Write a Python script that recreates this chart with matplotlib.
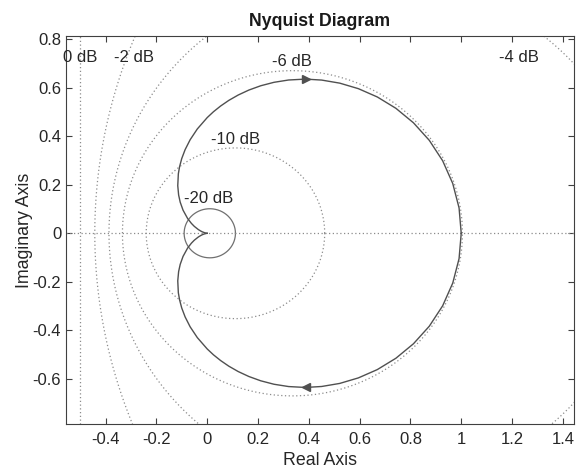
import numpy as np
import matplotlib
matplotlib.use("Agg")
import matplotlib.pyplot as plt

plt.rcParams['font.family'] = ['Liberation Sans', 'DejaVu Sans']
plt.rcParams['axes.unicode_minus'] = False

# Nyquist curve, positive frequencies (lower half)
re_pos = [1.0, 0.9915, 0.9666, 0.9268, 0.8743, 0.8120, 0.7429, 0.6697, 0.5952,
          0.5216, 0.4505, 0.3897, 0.3831, 0.3205, 0.2629, 0.2107, 0.1637, 0.1220,
          0.0850, 0.0527, 0.0244, 0.0, -0.0390, -0.0672, -0.0870, -0.1004,
          -0.1088, -0.1137, -0.1160, -0.1126, -0.1064, -0.0952, -0.0772, -0.0623,
          -0.0508, -0.0350, -0.0253, -0.0191, -0.0097, -0.0025, 0.0]
im_pos = [0.0, -0.1044, -0.2050, -0.2987, -0.3825, -0.4547, -0.5143, -0.5610,
          -0.5952, -0.6180, -0.6306, -0.6344, -0.6344, -0.6309, -0.6214, -0.6072,
          -0.5894, -0.5691, -0.5470, -0.5238, -0.5001, -0.4762, -0.4294, -0.3851,
          -0.3443, -0.3074, -0.2743, -0.2448, -0.1958, -0.1577, -0.1280, -0.0952,
          -0.0608, -0.0407, -0.0284, -0.0153, -0.0091, -0.0058, -0.0021, -0.0003,
          0.0]
arrow_index = 11

# constant closed-loop magnitude (M) circles, in dB
m_db = [-20, -10, -6, -4, -2, 0]
m_labels = ['-20 dB', '-10 dB', '-6 dB', '-4 dB', '-2 dB', '0 dB']
label_pos = [(0.006, 0.143), (0.111, 0.385), (0.334, 0.708),
             (1.228, 0.723), (-0.287, 0.723), (-0.50, 0.723)]

x_ticks = [-0.4, -0.2, 0, 0.2, 0.4, 0.6, 0.8, 1, 1.2, 1.4]
y_ticks = [-0.6, -0.4, -0.2, 0, 0.2, 0.4, 0.6, 0.8]
x_tick_labels = ['-0.4', '-0.2', '0', '0.2', '0.4', '0.6', '0.8', '1', '1.2', '1.4']
y_tick_labels = ['-0.6', '-0.4', '-0.2', '0', '0.2', '0.4', '0.6', '0.8']

W, H = 579, 471
fig = plt.figure(figsize=(W / 100, H / 100), dpi=100)
ax = fig.add_axes([66 / W, 1 - 424 / H, (574 - 66) / W, (424 - 36) / H])
xlim = (-0.556, 1.444)
ylim = (-0.785, 0.812)

grid_color = '#8c8c8c'
dot = (0, (1, 2))
theta = np.linspace(0, 2 * np.pi, 721)
for db in m_db:
    M = 10 ** (db / 20)
    if db == 0:
        ax.axvline(-0.5, color=grid_color, lw=0.9, ls=dot)
        continue
    c = -M ** 2 / (M ** 2 - 1)
    r = abs(M / (M ** 2 - 1))
    if db == -20:
        ax.plot(c + r * np.cos(theta), r * np.sin(theta), color='#707070', lw=0.9)
    else:
        ax.plot(c + r * np.cos(theta), r * np.sin(theta), color=grid_color, lw=0.9, ls=dot)
ax.axhline(0, color=grid_color, lw=0.9, ls=dot)

for lab, (lx, ly) in zip(m_labels, label_pos):
    ax.text(lx, ly, lab, ha='center', va='center', fontsize=12, color='#262626')

re = np.array(re_pos)
im = np.array(im_pos)
curve_color = '#505050'
ax.plot(re, im, color=curve_color, lw=1.0)
ax.plot(re, -im, color=curve_color, lw=1.0)
ax.plot(re[arrow_index], im[arrow_index], marker='<', ms=5.5, color=curve_color, mec=curve_color)
ax.plot(re[arrow_index], -im[arrow_index], marker='>', ms=5.5, color=curve_color, mec=curve_color)

ax.set_xlim(*xlim)
ax.set_ylim(*ylim)
ax.set_xticks(x_ticks)
ax.set_xticklabels(x_tick_labels)
ax.set_yticks(y_ticks)
ax.set_yticklabels(y_tick_labels)
ax.tick_params(direction='in', length=4, width=0.8, color='#404040',
               labelsize=12, labelcolor='#262626', top=True, right=True)
ax.tick_params(axis='y', pad=3.5)
ax.tick_params(axis='x', pad=6)
for s in ax.spines.values():
    s.set_color('#404040')
    s.set_linewidth(0.8)

ax.set_title('Nyquist Diagram', fontsize=12.8, fontweight='bold', color='#1a1a1a', pad=7)
ax.set_xlabel('Real Axis', fontsize=12.8, color='#262626', labelpad=3.5)
ax.set_ylabel('Imaginary Axis', fontsize=12.8, color='#262626', labelpad=0)

fig.savefig('out.png', dpi=100)
